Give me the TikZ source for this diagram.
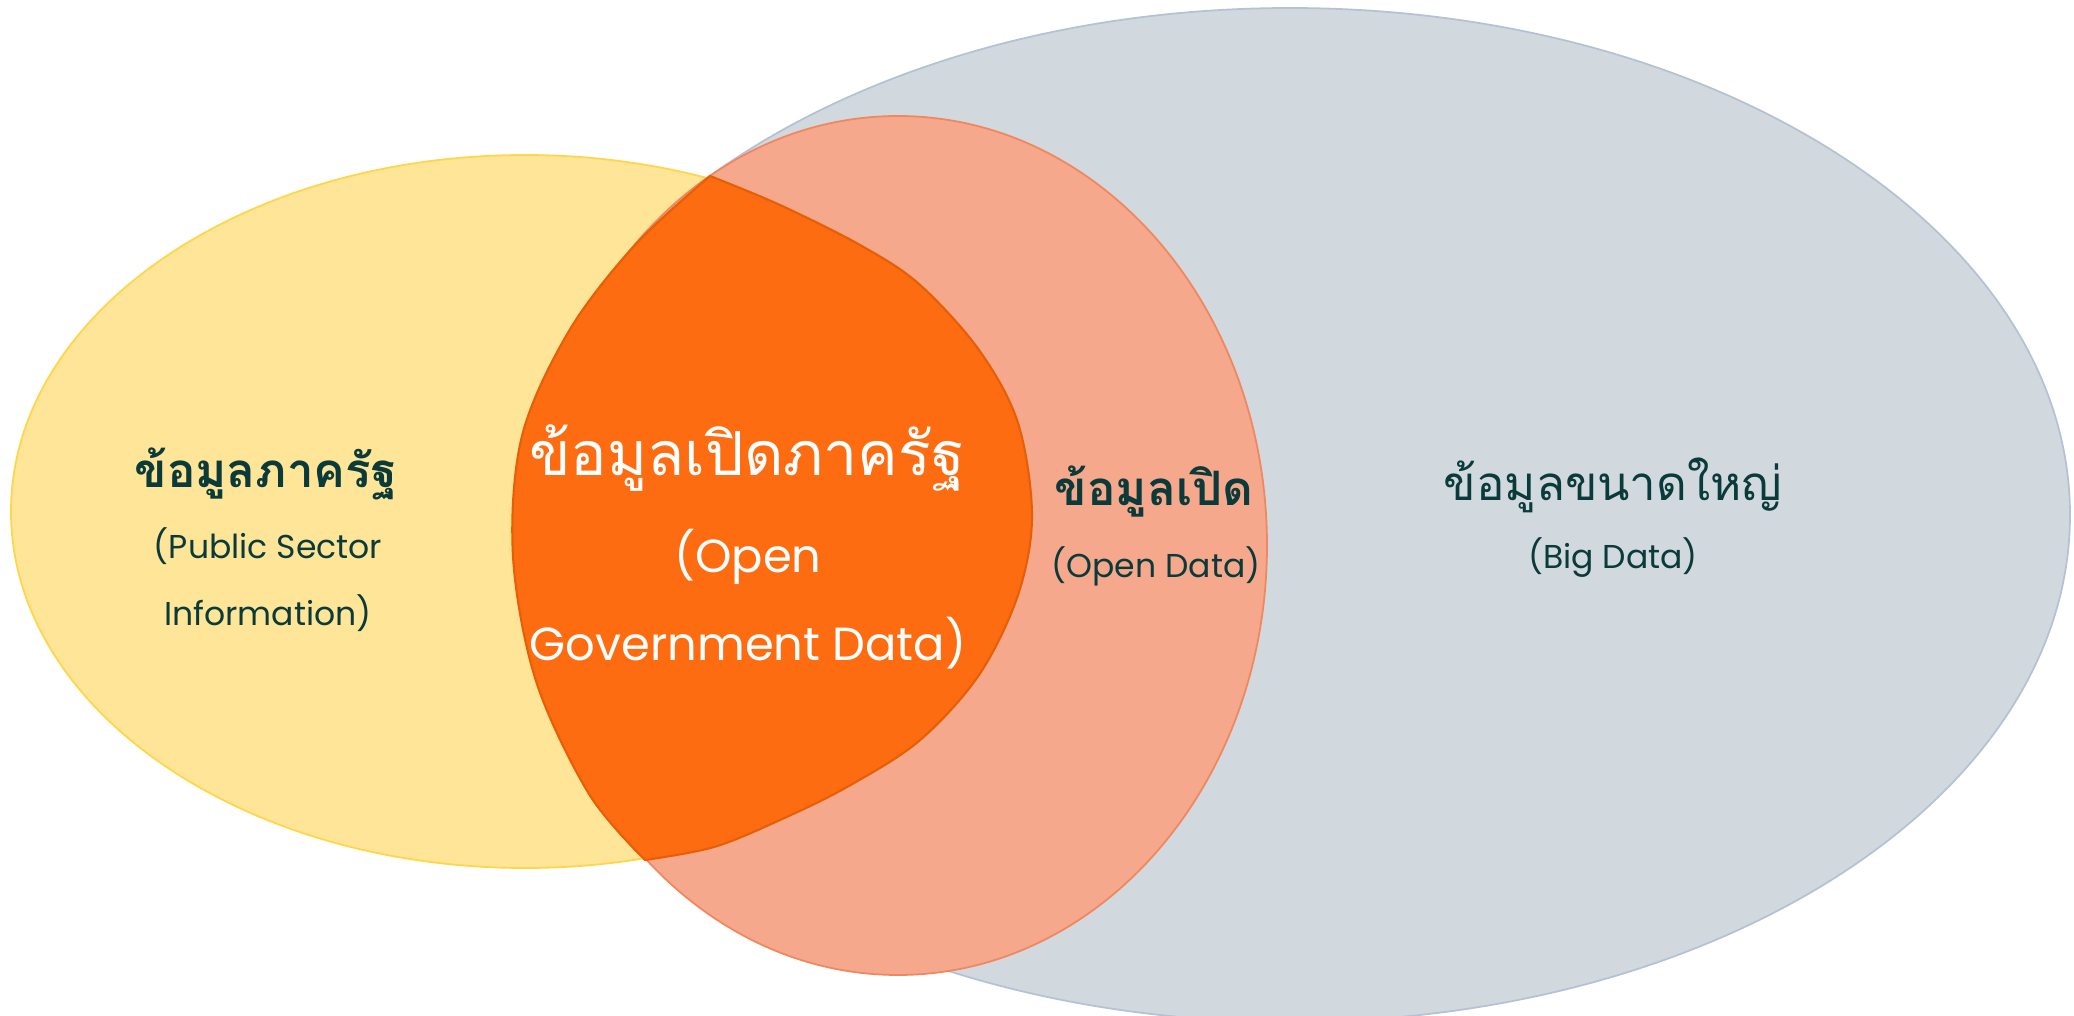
\documentclass[tikz,border=0pt]{standalone}
\usepackage{fontspec}
\setmainfont{Poppins}
\newfontfamily\thaifont[Script=Thai]{Loma}
\usetikzlibrary{shapes.geometric}
\definecolor{bigfill}{HTML}{D1D9DE}
\definecolor{bigline}{HTML}{B6C2D4}
\definecolor{psifill}{HTML}{FFE597}
\definecolor{psiline}{HTML}{FFD54A}
\definecolor{openfill}{HTML}{F5A88C}
\definecolor{openline}{HTML}{F0875E}
\definecolor{ogdfill}{HTML}{FD6C11}
\definecolor{ogdline}{HTML}{E65F05}
\definecolor{labeltext}{HTML}{0A3A3A}

\begin{document}
\begin{tikzpicture}[
  set/.style={ellipse, inner sep=0pt, line width=0.5pt},
  thtitle/.style={anchor=base, text=labeltext, font=\thaifont\bfseries\fontsize{13.5}{16}\selectfont},
  entitle/.style={anchor=base, text=labeltext, align=center, font=\fontsize{9.4}{19}\selectfont}
]
\useasboundingbox (0,0) rectangle (20.74,10.15);

% the three sets
\node[set, draw=bigline, fill=bigfill, minimum width=15.6cm, minimum height=10.14cm] (big) at (12.90,5.00) {};
\node[set, draw=psiline, fill=psifill, minimum width=10.28cm, minimum height=7.13cm] (psi) at (5.25,5.035) {};
\node[set, draw=openline, fill=openfill, minimum width=7.38cm, minimum height=8.59cm] (open) at (8.98,4.695) {};

% overlap, drawn by hand
\draw[draw=ogdline, fill=ogdfill, line width=0.6pt]
  plot[smooth, tension=0.55] coordinates {(7.10,8.39) (7.80,8.10) (8.60,7.70) (9.19,7.31) (9.79,6.65)
    (10.18,5.92) (10.32,4.99) (10.18,4.20) (9.79,3.40) (9.19,2.74) (8.47,2.28) (7.80,1.95) (7.14,1.68) (6.45,1.55)}
  -- plot[smooth, tension=0.55] coordinates {(6.45,1.55) (5.89,2.21) (5.36,3.34) (5.13,4.59) (5.22,5.79)
    (5.69,6.84) (6.35,7.70) (7.10,8.39)}
  -- cycle;

% labels; two-line nodes sit on their last baseline
\node[thtitle] (psith) at (2.66,5.28) {ข้อมูลภาครัฐ};
\node[entitle] (psien) at (2.68,3.90) {(Public Sector\\Information)};

\node[thtitle, text=white, font=\thaifont\fontsize{17.3}{20}\selectfont] (ogdth) at (7.47,5.40) {ข้อมูลเปิดภาครัฐ};
\node[entitle, text=white, font=\fontsize{13.2}{25}\selectfont] (ogden) at (7.48,3.55) {(Open\\Government Data)};

\node[thtitle] (openth) at (11.54,5.10) {ข้อมูลเปิด};
\node[entitle] (openen) at (11.56,4.38) {(Open Data)};

\node[thtitle, font=\thaifont\fontsize{13.5}{16}\selectfont] (bigth) at (16.13,5.15) {ข้อมูลขนาดใหญ่};
\node[entitle] (bigen) at (16.13,4.47) {(Big Data)};
\end{tikzpicture}
\end{document}
